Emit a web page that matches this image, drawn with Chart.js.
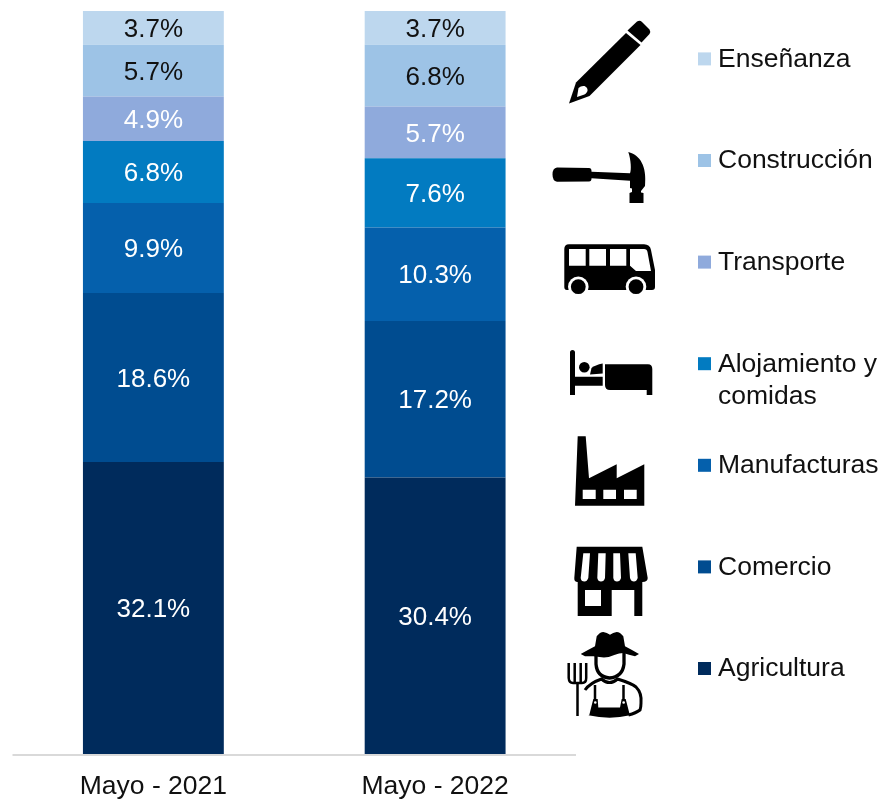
<!DOCTYPE html>
<html><head><meta charset="utf-8">
<style>html,body{margin:0;padding:0;background:#fff}#wrap{position:relative;width:882px;height:800px;overflow:hidden}canvas{position:absolute;left:0;top:0}svg{position:absolute;left:0;top:0}</style>
<script src="https://cdn.jsdelivr.net/npm/chart.js@4"></script></head>
<body><div id="wrap"><canvas id="c" width="882" height="800"></canvas>
<svg width="882" height="800" viewBox="0 0 882 800">
<!-- pencil -->
<path d="M569 103.500L576 82.500L626 33L640.500 45L589.500 96Z"/>
<path d="M627.500 30.500L637 21.500Q640 20 642 22L649.500 29.500Q651 32 649.500 34L641.500 42.500Z"/>
<path d="M577 97L578.500 88Q581 85.500 584.500 86Q588 87.500 587.500 91Q586 94.500 583 95Z" fill="#fff"/>
<!-- hammer -->
<path d="M557 167.500L589 168Q591.500 168 591.500 171L591.500 171.700L630 173.300C631.500 170 631 160 628.300 152C640 155 647 166 645 186L641 191L641 192.500L643.500 193L643.500 203L629.500 203L629.500 193L632 192L632 188.500L630 188L630 180.700L591.500 178.300L591.500 178.500Q591.500 181.500 589 181.500L557 181.800Q552.500 181 552.500 174.500Q552.500 168 557 167.500Z"/>
<!-- bus -->
<path fill-rule="evenodd" d="M569 244.300L644 244.300Q650 244.500 651 250L655 270L655 287Q655 290 652 290L567 290Q564.300 290 564.300 287L564.300 249Q564.300 244.300 569 244.300ZM569 249L569 265.700L585.700 265.700L585.700 249ZM589.300 249L589.300 265.700L606 265.700L606 249ZM610 249L610 265.700L626.300 265.700L626.300 249ZM630 249L630 265.700L636 271L651 271L647.500 252Q647 249 644 249Z"/>
<circle cx="578.300" cy="286.700" r="10.300" fill="#fff"/><circle cx="636" cy="286.700" r="10.300" fill="#fff"/>
<circle cx="578.300" cy="286.700" r="7.400"/><circle cx="636" cy="286.700" r="7.400"/>
<!-- bed -->
<path d="M570 352.500Q570 350 572.500 350Q575 350 575 352.500L575 376.700L602.700 376.700L602.700 385.700L575 385.700L575 395L570 395Z"/>
<circle cx="584.300" cy="367.300" r="5.300"/>
<path d="M591.500 368Q595 365 602.700 363.500L602.700 373.500L590 374.500Z"/>
<path d="M605 364.300L648 364.300Q652.300 364.300 652.300 369L652.300 395L646.700 395L646.700 390L610 390Q605 390 605 385Z"/>
<!-- factory -->
<path fill-rule="evenodd" d="M577.700 436.300L585.700 436.300L589 478.300L616.700 464.300L616.700 478.300L644.300 464.300L644.300 505.700L575 505.700ZM582.700 489.700L582.700 499L595.700 499L595.700 489.700ZM603.300 489.700L603.300 499L616 499L616 489.700ZM624 489.700L624 499L636.700 499L636.700 489.700Z"/>
<!-- store -->
<path fill-rule="evenodd" d="M576.700 546.700L642.300 546.700L647.700 578Q647.700 582 642.300 582L642.300 616L634.300 616L634.300 590L611.700 590L611.700 616L577.700 616L577.700 582Q574 582 574.300 578ZM585 590L585 606L601 606L601 590Z"/>
<path d="M583.300 553.300L590 553.300L588.300 578Q587 581.500 584.500 581.500Q581 581.500 580.700 578ZM598.300 553.300L605.700 553.300L605 578Q604 581.500 601 581.500Q598 581.500 597.300 578ZM613.300 553.300L620 553.300L621 578Q620 581.500 617 581.500Q614 581.500 613.300 578ZM628.300 553.300L635.700 553.300L637.700 578Q636.500 581.500 634 581.500Q631 581.500 630 578Z" fill="#fff"/>
<!-- farmer -->
<path d="M580.700 654Q588 650 595 646.300L596.700 636.300Q600 632 603.300 632Q607 632.500 610 634.700Q613 632.500 616.700 632Q620 632 623.300 636.300L625 646.300Q632 650 639 654L635 656.300Q629 655 623.300 653Q619 653 615 654.700Q608 658 601.700 657.300L593.300 656.300L585 656.300Z"/>
<path d="M596 655L596 664Q597 677 609.500 678Q622.500 677 624 664L624 653" fill="none" stroke="#000" stroke-width="3.300"/>
<path d="M568.700 663L568.700 678Q569 683 573 683L582 683Q586.200 683 586.200 678L586.200 663M574.700 663L574.700 683M580.700 663L580.700 683M577.500 683L577.500 716" fill="none" stroke="#000" stroke-width="2.500"/>
<path d="M585 690Q590 683 601.500 679Q609.500 686 617.500 679Q631 683 636 687Q642 693 641 703Q641 707 640 710Q636 713 628.500 715" fill="none" stroke="#000" stroke-width="3"/>
<path d="M595 685L595 699M623.500 685L623.500 699" fill="none" stroke="#000" stroke-width="2.500"/>
<path fill-rule="evenodd" d="M589.300 715Q591 708 593.300 699L597.700 699L598.300 707.500L620 707.500L621.700 699L625.700 699L629.300 713L630 715.300Q610 720 588.300 715.300ZM594 702.500A1.300 1.300 0 1 0 596.600 702.500A1.300 1.300 0 1 0 594 702.500ZM622.300 702.500A1.300 1.300 0 1 0 625 702.500A1.300 1.300 0 1 0 622.300 702.500Z"/>
</svg></div>
<script>
const categories = ["2021", "2022"];
const tickLabels = ["Mayo - 2021", "Mayo - 2022"];
const sectors = ["Agricultura", "Comercio", "Manufacturas", "Alojamiento y comidas", "Transporte", "Construcción", "Enseñanza"];
const values2021 = [32.1, 18.6, 9.9, 6.8, 4.9, 5.7, 3.7];
const values2022 = [30.4, 17.2, 10.3, 7.6, 5.7, 6.8, 3.7];
const colors = ["#002B5C", "#004C90", "#0560AC", "#027BC1", "#8FAADC", "#9DC3E6", "#BDD7EE"];
const labelColors = ["#fff", "#fff", "#fff", "#fff", "#fff", "#111", "#111"];
const legendLines = [["Agricultura"], ["Comercio"], ["Manufacturas"], ["Alojamiento y", "comidas"], ["Transporte"], ["Construcción"], ["Enseñanza"]];
const FONT = '26.5px "Liberation Sans", Arial, sans-serif';
const LABEL_FONT = '26px "Liberation Sans", Arial, sans-serif';
const total = a => a.reduce((s, v) => s + v, 0);
const raw = [values2021, values2022];

const labelsPlugin = {
  id: "segmentLabels",
  afterDatasetsDraw(chart) {
    const ctx = chart.ctx;
    ctx.save();
    ctx.font = LABEL_FONT; ctx.textAlign = "center"; ctx.textBaseline = "middle";
    chart.data.datasets.forEach((ds, i) => {
      chart.getDatasetMeta(i).data.forEach((bar, j) => {
        ctx.fillStyle = labelColors[i];
        ctx.fillText(raw[j][i].toFixed(1) + "%", bar.x, (bar.y + bar.base) / 2 + 2);
      });
    });
    ctx.restore();
  }
};
const baselinePlugin = {
  id: "baseline",
  afterDatasetsDraw(chart) {
    const a = chart.chartArea;
    chart.ctx.fillStyle = "#D9D9D9";
    chart.ctx.fillRect(a.left, a.bottom, a.right - a.left, 2);
  }
};
const legendPlugin = {
  id: "sideLegend",
  afterDraw(chart) {
    const ctx = chart.ctx;
    const slot = 101.6, bottomY = 669;
    ctx.save();
    ctx.font = FONT; ctx.textAlign = "left"; ctx.textBaseline = "middle";
    sectors.forEach((name, i) => {
      const y = bottomY - i * slot;
      ctx.fillStyle = colors[i];
      ctx.fillRect(698, y - 7, 13, 13);
      ctx.fillStyle = "#111";
      legendLines[i].forEach((t, k) => ctx.fillText(t, 718, y + k * 32));
    });
    ctx.restore();
  }
};
new Chart(document.getElementById("c"), {
  type: "bar",
  data: {
    labels: tickLabels,
    datasets: sectors.map((name, i) => ({
      label: name,
      data: raw.map(a => a[i] / total(a) * 100),
      backgroundColor: colors[i],
      borderWidth: 0,
      categoryPercentage: 1,
      barPercentage: 0.5
    }))
  },
  options: {
    responsive: false, animation: false,
    layout: { padding: { left: 12.5, right: 306, top: 11, bottom: 0 } },
    plugins: { legend: { display: false }, tooltip: { enabled: false }, title: { display: false } },
    scales: {
      x: { stacked: true,
        grid: { display: false, drawTicks: false },
        border: { display: false },
        ticks: { color: "#111", font: { family: '"Liberation Sans", Arial, sans-serif', size: 26.5 }, padding: 17, maxRotation: 0 },
        afterFit(s) { s.height = 46; } },
      y: { stacked: true, display: false, min: 0, max: 100 }
    }
  },
  plugins: [labelsPlugin, baselinePlugin, legendPlugin]
});
</script></body></html>
